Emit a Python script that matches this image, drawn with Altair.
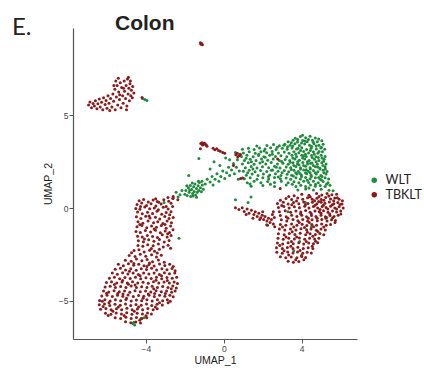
import altair as alt
import pandas as pd

# UMAP embedding of colon cells, coloured by genotype
groups = ["WLT", "TBKLT"]
colors = ["#1f8b3b", "#8b1a1a"]

# ---- WLT cells ----
wlt_main = [
    [3.68, 3.76], [3.94, 3.85], [4.21, 3.79], [4.44, 3.87], [4.71, 3.78], [4.05, 3.92],
    [3.31, 3.57], [3.56, 3.65], [3.79, 3.56], [4.06, 3.64], [4.29, 3.58], [4.56, 3.66], [4.81, 3.57], [5.04, 3.63],
    [2.22, 3.37], [2.56, 3.43], [2.86, 3.36], [3.14, 3.44], [3.41, 3.38], [3.66, 3.46], [3.89, 3.37], [4.16, 3.45],
    [4.41, 3.39], [4.64, 3.46], [4.89, 3.38], [5.11, 3.44],
    [0.96, 3.17], [1.27, 3.23], [1.56, 3.16], [1.84, 3.24], [2.12, 3.18], [2.41, 3.25], [2.69, 3.16], [3.01, 3.22],
    [3.26, 3.17], [3.51, 3.24], [3.74, 3.18], [4.01, 3.25], [4.26, 3.16], [4.49, 3.23], [4.76, 3.18], [4.99, 3.24], [5.19, 3.17],
    [1.01, 2.97], [1.31, 3.04], [1.62, 2.96], [1.91, 3.03], [2.21, 2.98], [2.49, 3.05], [2.81, 2.97], [3.11, 3.02],
    [3.36, 2.96], [3.61, 3.04], [3.86, 2.98], [4.11, 3.05], [4.36, 2.97], [4.61, 3.03], [4.84, 2.96], [5.07, 3.04],
    [0.91, 2.78], [1.19, 2.84], [1.51, 2.76], [1.79, 2.83], [2.06, 2.77], [2.36, 2.85], [2.66, 2.78], [2.94, 2.82],
    [3.24, 2.76], [3.51, 2.84], [3.74, 2.77], [4.01, 2.85], [4.24, 2.78], [4.51, 2.83], [4.74, 2.76], [5.01, 2.84], [5.21, 2.78],
    [1.06, 2.57], [1.36, 2.63], [1.66, 2.56], [1.94, 2.64], [2.26, 2.58], [2.54, 2.65], [2.86, 2.56], [3.16, 2.62],
    [3.39, 2.57], [3.66, 2.64], [3.89, 2.58], [4.16, 2.65], [4.39, 2.57], [4.66, 2.63], [4.89, 2.56], [5.16, 2.63],
    [0.96, 2.38], [1.26, 2.44], [1.56, 2.36], [1.86, 2.43], [2.16, 2.37], [2.44, 2.45], [2.76, 2.38], [3.04, 2.42],
    [3.31, 2.36], [3.56, 2.44], [3.79, 2.37], [4.06, 2.45], [4.31, 2.38], [4.54, 2.43], [4.81, 2.36], [5.04, 2.44], [5.26, 2.38],
    [1.11, 2.17], [1.41, 2.24], [1.71, 2.16], [1.99, 2.23], [2.31, 2.18], [2.61, 2.25], [2.89, 2.16], [3.21, 2.22],
    [3.44, 2.17], [3.71, 2.24], [3.94, 2.18], [4.21, 2.25], [4.44, 2.17], [4.71, 2.23], [4.94, 2.16], [5.21, 2.23],
    [1.01, 1.98], [1.31, 2.04], [1.61, 1.96], [1.89, 2.03], [2.21, 1.97], [2.51, 2.05], [2.79, 1.98], [3.11, 2.02],
    [3.34, 1.96], [3.61, 2.04], [3.84, 1.97], [4.11, 2.05], [4.34, 1.98], [4.61, 2.03], [4.84, 1.96], [5.11, 2.04], [5.31, 1.97],
    [1.16, 1.77], [1.46, 1.84], [1.76, 1.76], [2.04, 1.83], [2.36, 1.78], [2.66, 1.85], [2.94, 1.76], [3.26, 1.82],
    [3.49, 1.77], [3.76, 1.84], [3.99, 1.78], [4.26, 1.85], [4.49, 1.77], [4.76, 1.83], [4.99, 1.76], [5.26, 1.83],
    [1.06, 1.58], [1.36, 1.64], [1.71, 1.56], [2.01, 1.63], [2.31, 1.57], [2.61, 1.65], [2.91, 1.58], [3.21, 1.62],
    [3.44, 1.56], [3.71, 1.64], [3.94, 1.57], [4.21, 1.65], [4.44, 1.58], [4.71, 1.63], [4.96, 1.56], [5.21, 1.64], [5.39, 1.57],
    [1.21, 1.37], [1.56, 1.44], [1.91, 1.36], [2.26, 1.43], [2.61, 1.38], [2.96, 1.45], [3.31, 1.36], [3.61, 1.42],
    [3.86, 1.37], [4.11, 1.44], [4.36, 1.38], [4.61, 1.45], [4.86, 1.36], [5.11, 1.43], [5.36, 1.37],
    [1.41, 1.18], [2.01, 1.22], [2.61, 1.16], [3.21, 1.24], [3.71, 1.17], [3.96, 1.23], [4.21, 1.16], [4.46, 1.24],
    [4.71, 1.18], [4.96, 1.22], [5.21, 1.16], [5.46, 1.23],
    [3.81, 0.98], [4.21, 1.03], [4.61, 0.97], [5.01, 1.02], [5.41, 0.96], [5.62, 0.93],
    [3.80, 3.70], [4.35, 3.70], [4.60, 3.55], [3.55, 3.35], [4.00, 3.50], [4.75, 3.35], [3.95, 3.10], [4.45, 3.10],
    [4.90, 3.05], [3.70, 2.90], [4.20, 2.90], [4.65, 2.90], [3.55, 2.70], [4.05, 2.70], [4.55, 2.72], [5.05, 2.70],
    [3.80, 2.50], [4.30, 2.50], [4.75, 2.50], [3.60, 2.30], [4.10, 2.30], [4.60, 2.30], [5.10, 2.30], [3.95, 2.10],
    [4.45, 2.10], [4.95, 2.10], [3.70, 1.90], [4.20, 1.90], [4.70, 1.90], [5.15, 1.90], [4.00, 1.70], [4.50, 1.70],
    [5.05, 1.70], [2.50, 2.90], [2.00, 2.50], [1.50, 2.10], [2.70, 2.20], [3.00, 1.90], [1.80, 2.90], [2.30, 1.70],
    [4.88, 3.72], [4.18, 3.62], [3.47, 3.52], [4.52, 3.32], [3.28, 3.30], [5.02, 3.28], [3.82, 3.22], [4.12, 2.82],
    [4.86, 2.73], [3.42, 2.47], [4.46, 2.42], [5.13, 2.52], [3.87, 2.33], [4.83, 2.21], [3.47, 2.08], [4.24, 2.07],
    [5.22, 2.11], [3.92, 1.86], [4.44, 1.91], [4.88, 1.65], [3.58, 1.73], [4.29, 1.50], [5.02, 1.52], [4.72, 1.29],
    [3.52, 1.28], [4.38, 1.08], [5.28, 1.29], [2.08, 3.08], [1.42, 2.50], [2.45, 2.04], [1.23, 1.90], [2.80, 1.68],
    [2.13, 2.74], [1.70, 3.35], [2.98, 2.51], [3.09, 3.38], [1.35, 1.30], [2.40, 1.28], [2.75, 3.28], [1.15, 2.68],
]

wlt_bridge = [
    [-2.00, 0.75], [-1.95, 0.95], [-1.88, 0.68], [-1.82, 1.10], [-1.78, 0.85], [-1.72, 1.22], [-1.70, 0.62],
    [-1.65, 1.00], [-1.60, 0.78], [-1.55, 1.15], [-1.52, 0.90], [-1.48, 1.30], [-1.45, 0.70], [-1.40, 1.05],
    [-1.36, 0.85], [-1.32, 1.20], [-1.28, 0.95], [-1.25, 1.38], [-1.20, 1.10], [-1.15, 0.88], [-1.10, 1.25],
    [-1.05, 1.02], [-1.62, 1.35], [-1.90, 1.20], [-1.40, 0.58], [-1.75, 0.98], [-1.58, 0.65], [-1.30, 1.45],
    [-1.12, 1.45], [-2.45, 0.85], [-2.25, 0.72], [-2.15, 0.95], [-2.35, 0.60], [-2.60, 0.55],
    [-0.95, 1.30], [-0.85, 1.55], [-0.70, 1.40], [-0.60, 1.70], [-0.55, 1.25], [-0.45, 1.55], [-0.35, 1.85],
    [-0.25, 1.45], [-0.15, 1.70], [-0.05, 2.00], [0.05, 1.60], [0.15, 1.90], [0.25, 2.20], [0.30, 1.75],
    [0.40, 2.05], [0.50, 2.40], [0.55, 1.85], [0.65, 2.20], [0.70, 2.60], [0.80, 2.00], [-1.28, 2.67],
    [-0.70, 2.10], [-0.20, 2.30], [0.30, 2.60], [0.60, 3.00], [-0.50, 2.50], [0.10, 2.70], [-1.80, 1.75],
    [0.85, 2.85], [0.75, 1.55],
]

wlt_scattered = [
    [-4.18, 5.90], [-4.06, 5.85], [-3.95, 5.80], [-2.30, -1.63], [-3.07, 0.30],
    [-4.67, -6.22], [-4.58, -6.30], [-4.62, -6.15], [-4.25, -5.95], [-4.10, -5.90],
    [3.30, -0.20], [4.50, -1.00], [3.90, -1.80], [5.30, -0.50], [2.20, -0.90], [1.40, 0.60],
    [1.25, 0.30], [3.60, -2.30], [4.20, 0.30], [0.60, 0.45],
]

# ---- TBKLT cells ----
tbklt_upper_left = [
    [-6.95, 5.55], [-6.88, 5.72], [-6.80, 5.40], [-6.72, 5.63], [-6.65, 5.50], [-6.60, 5.78], [-6.52, 5.35],
    [-6.47, 5.62], [-6.40, 5.88], [-6.35, 5.45], [-6.28, 5.70], [-6.22, 5.30], [-6.18, 5.95], [-6.10, 5.58],
    [-6.05, 5.80], [-6.00, 5.38], [-5.95, 6.05], [-5.90, 5.65], [-5.86, 5.25], [-5.82, 5.90],
    [-5.75, 5.45], [-5.70, 6.15], [-5.66, 5.75], [-5.60, 6.40], [-5.58, 5.30], [-5.52, 5.98], [-5.48, 6.60],
    [-5.45, 5.55], [-5.40, 6.25], [-5.36, 5.85], [-5.32, 6.75], [-5.28, 5.40], [-5.25, 6.50], [-5.20, 6.05],
    [-5.17, 5.65], [-5.12, 6.85], [-5.10, 6.30], [-5.05, 5.90], [-5.02, 6.60], [-4.98, 5.50], [-4.95, 6.95],
    [-4.92, 6.15], [-4.88, 6.45], [-4.85, 5.78], [-4.82, 6.70], [-4.78, 6.05], [-4.75, 6.35], [-4.70, 5.95],
    [-4.68, 6.55], [-4.62, 6.20], [-5.55, 6.85], [-5.42, 7.00], [-4.90, 7.05], [-5.15, 6.45], [-5.35, 6.10],
    [-4.80, 6.85], [-5.65, 6.60], [-5.00, 5.30], [-4.20, 5.96],
]

tbklt_small = [
    [-1.20, 8.90], [-1.14, 8.86], [-1.10, 8.80], [-1.17, 8.83],
    [-1.18, 3.48], [-1.12, 3.52], [-1.06, 3.42], [-1.00, 3.50], [-0.95, 3.44], [-0.90, 3.40], [-1.10, 3.40],
    [-0.86, 3.33], [-1.20, 3.20], [-0.55, 3.22], [-0.46, 3.14], [-0.36, 3.20], [-0.27, 3.10], [-0.18, 3.06],
    [-0.05, 3.00], [0.05, 2.95], [0.62, 2.88], [0.70, 2.95], [0.78, 2.82], [0.85, 2.90], [0.72, 2.75],
    [0.50, 2.30], [0.87, 1.60], [0.97, 1.62], [2.77, 2.65], [2.90, 1.05],
    [-2.87, 0.57], [-2.60, 0.62], [-2.36, 0.45],
]

tbklt_left_top = [
    [-4.35, 0.40], [-4.12, 0.46], [-3.88, 0.33], [-3.63, 0.44], [-3.34, 0.31], [-3.08, 0.45], [-2.83, 0.37], [-2.62, 0.52], [-3.50, 0.50],
    [-4.46, 0.19], [-4.22, 0.27], [-3.97, 0.14], [-3.74, 0.24], [-3.49, 0.11], [-3.22, 0.22], [-2.96, 0.09], [-2.71, 0.26],
    [-4.52, -0.02], [-4.31, -0.06], [-4.06, 0.06], [-3.81, -0.03], [-3.57, 0.01], [-3.36, -0.09], [-3.11, 0.04], [-2.86, -0.05], [-2.63, 0.08],
    [-4.43, -0.21], [-4.19, -0.31], [-3.92, -0.23], [-3.66, -0.29], [-3.43, -0.17], [-3.19, -0.33], [-2.96, -0.24], [-2.71, -0.19],
    [-4.49, -0.47], [-4.26, -0.56], [-4.01, -0.44], [-3.79, -0.53], [-3.51, -0.49], [-3.29, -0.59], [-3.03, -0.45], [-2.81, -0.56], [-2.60, -0.50],
    [-4.41, -0.73], [-4.16, -0.81], [-3.89, -0.69], [-3.61, -0.79], [-3.39, -0.74], [-3.13, -0.83], [-2.91, -0.69], [-2.69, -0.79],
    [-4.46, -1.01], [-4.21, -0.94], [-3.96, -1.06], [-3.71, -0.97], [-3.46, -1.03], [-3.21, -0.94], [-2.96, -1.09], [-2.73, -0.97],
    [-4.51, -1.26], [-4.29, -1.31], [-4.03, -1.21], [-3.76, -1.29], [-3.51, -1.19], [-3.26, -1.33], [-3.01, -1.24], [-2.79, -1.31], [-2.61, -1.17],
    [-4.43, -1.51], [-4.19, -1.56], [-3.93, -1.47], [-3.66, -1.53], [-3.41, -1.59], [-3.16, -1.44], [-2.91, -1.56], [-2.71, -1.47],
    [-4.39, -1.76], [-4.13, -1.81], [-3.86, -1.71], [-3.59, -1.79], [-3.31, -1.69], [-3.06, -1.83], [-2.81, -1.74],
    [-4.41, -2.01], [-4.16, -2.06], [-3.91, -1.97], [-3.63, -2.03], [-3.36, -1.94], [-3.11, -2.09], [-2.86, -2.00], [-2.73, -2.16],
    [-4.61, -2.29], [-4.36, -2.24], [-4.09, -2.36], [-3.81, -2.27], [-3.56, -2.33], [-3.31, -2.21],
    [-4.86, -2.55], [-4.56, -2.61], [-4.29, -2.49], [-4.01, -2.59], [-3.71, -2.51], [-3.46, -2.63], [-3.21, -2.54],
    [-5.06, -2.81], [-4.76, -2.86], [-4.49, -2.74], [-4.21, -2.83], [-3.94, -2.77], [-3.66, -2.89], [-3.36, -2.79], [-3.06, -2.91],
    [-4.28, 0.08], [-3.42, 0.36], [-2.78, -0.36], [-3.84, -0.42], [-4.32, -0.88], [-3.02, -0.88], [-3.58, -1.12],
    [-4.08, -1.66], [-2.88, -1.38], [-3.72, -2.18], [-4.74, -2.40], [-3.42, -2.42], [-4.62, -2.98], [-3.82, -2.96],
]

tbklt_left_bottom = [
    [-5.42, -3.03], [-5.16, -3.10], [-4.90, -3.00], [-4.63, -3.08], [-4.37, -3.02], [-4.10, -3.11], [-3.84, -3.04],
    [-3.58, -3.12], [-3.30, -3.01], [-3.03, -3.09], [-2.78, -3.03], [-2.60, -3.15],
    [-5.58, -3.30], [-5.31, -3.24], [-5.05, -3.33], [-4.78, -3.26], [-4.50, -3.35], [-4.24, -3.27], [-3.97, -3.31],
    [-3.71, -3.24], [-3.45, -3.34], [-3.18, -3.27], [-2.92, -3.32], [-2.66, -3.25], [-2.50, -3.38],
    [-5.73, -3.50], [-5.47, -3.56], [-5.20, -3.48], [-4.93, -3.55], [-4.66, -3.50], [-4.39, -3.58], [-4.12, -3.49],
    [-3.85, -3.55], [-3.58, -3.50], [-3.31, -3.57], [-3.05, -3.48], [-2.79, -3.54], [-2.52, -3.50],
    [-5.88, -3.78], [-5.62, -3.73], [-5.35, -3.80], [-5.08, -3.74], [-4.81, -3.79], [-4.54, -3.72], [-4.27, -3.80],
    [-4.00, -3.75], [-3.73, -3.79], [-3.46, -3.72], [-3.19, -3.80], [-2.92, -3.74], [-2.65, -3.78], [-2.42, -3.73],
    [-6.03, -4.01], [-5.77, -3.97], [-5.50, -4.04], [-5.23, -3.98], [-4.96, -4.03], [-4.69, -3.96], [-4.42, -4.04],
    [-4.15, -3.99], [-3.88, -4.05], [-3.61, -3.97], [-3.34, -4.03], [-3.07, -3.98], [-2.80, -4.04], [-2.55, -3.98], [-2.38, -4.06],
    [-6.10, -4.25], [-5.84, -4.21], [-5.57, -4.28], [-5.30, -4.22], [-5.03, -4.27], [-4.76, -4.20], [-4.49, -4.28],
    [-4.22, -4.23], [-3.95, -4.27], [-3.68, -4.21], [-3.41, -4.28], [-3.14, -4.22], [-2.87, -4.27], [-2.62, -4.20], [-2.44, -4.30],
    [-6.18, -4.47], [-5.91, -4.52], [-5.64, -4.45], [-5.37, -4.51], [-5.10, -4.46], [-4.83, -4.53], [-4.56, -4.45],
    [-4.29, -4.50], [-4.02, -4.46], [-3.75, -4.52], [-3.48, -4.45], [-3.21, -4.51], [-2.94, -4.46], [-2.68, -4.53], [-2.50, -4.47],
    [-6.27, -4.73], [-6.00, -4.69], [-5.73, -4.76], [-5.46, -4.70], [-5.19, -4.75], [-4.92, -4.68], [-4.65, -4.76],
    [-4.38, -4.71], [-4.11, -4.75], [-3.84, -4.69], [-3.57, -4.76], [-3.30, -4.70], [-3.03, -4.75], [-2.77, -4.69], [-2.60, -4.78],
    [-6.38, -4.97], [-6.11, -4.93], [-5.84, -5.00], [-5.57, -4.94], [-5.30, -4.99], [-5.03, -4.92], [-4.76, -5.00],
    [-4.49, -4.95], [-4.22, -4.99], [-3.95, -4.93], [-3.68, -5.00], [-3.41, -4.94], [-3.14, -4.99], [-2.90, -4.93], [-2.75, -5.02],
    [-6.40, -5.21], [-6.13, -5.17], [-5.86, -5.24], [-5.59, -5.18], [-5.32, -5.23], [-5.05, -5.16], [-4.78, -5.24],
    [-4.51, -5.19], [-4.24, -5.23], [-3.97, -5.17], [-3.70, -5.24], [-3.43, -5.18], [-3.16, -5.22],
    [-6.33, -5.45], [-6.06, -5.41], [-5.79, -5.48], [-5.52, -5.42], [-5.25, -5.47], [-4.98, -5.40], [-4.71, -5.48],
    [-4.44, -5.43], [-4.17, -5.47], [-3.90, -5.41], [-3.63, -5.47], [-3.42, -5.42],
    [-6.08, -5.66], [-5.80, -5.72], [-5.53, -5.65], [-5.26, -5.71], [-4.99, -5.64], [-4.72, -5.72], [-4.45, -5.66],
    [-4.18, -5.71], [-3.92, -5.65], [-3.72, -5.70],
    [-5.58, -5.90], [-5.30, -5.95], [-5.03, -5.88], [-4.76, -5.94], [-4.49, -5.89], [-4.22, -5.95], [-3.96, -5.90],
    [-5.05, -6.12], [-4.78, -6.18], [-4.52, -6.13], [-4.28, -6.19],
    [-5.90, -5.10], [-5.45, -4.60], [-4.90, -4.10], [-4.30, -3.65], [-3.60, -4.35], [-3.00, -4.60], [-2.90, -3.90],
    [-5.20, -3.90], [-4.60, -5.55], [-4.00, -5.80], [-3.30, -5.10], [-5.70, -5.55], [-6.20, -5.30], [-4.85, -3.40],
    [-3.95, -3.15], [-3.20, -3.65], [-2.70, -4.35], [-5.00, -4.85], [-4.15, -4.85], [-3.55, -4.60],
    [-5.62, -4.12], [-4.56, -4.14], [-3.48, -3.88], [-6.02, -4.58], [-5.18, -4.62], [-3.88, -4.62], [-2.86, -5.10],
    [-6.24, -5.02], [-5.42, -5.32], [-4.38, -5.32], [-3.52, -5.32], [-5.94, -5.78], [-5.12, -5.78], [-4.32, -6.04],
]

tbklt_right = [
    [0.78, -0.08], [0.95, 0.02], [1.05, -0.18], [1.20, -0.05], [1.30, -0.28], [1.42, -0.12], [1.55, -0.35],
    [1.62, -0.20], [1.72, -0.45], [1.80, -0.28], [1.90, -0.52], [1.98, -0.38], [2.05, -0.62], [2.12, -0.45],
    [2.22, -0.70], [2.30, -0.55], [2.38, -0.78], [2.45, -0.62], [2.55, -0.85], [2.60, -0.50], [1.15, -0.35],
    [1.50, -0.55], [2.00, -0.20], [2.50, -0.35], [0.60, 0.02], [2.62, -1.00], [2.55, -0.20], [1.85, -0.62], [2.25, -0.92],
    [3.62, 0.66], [4.01, 0.74], [4.38, 0.69], [4.77, 0.78], [5.04, 0.70], [5.31, 0.79], [5.56, 0.72], [5.80, 0.75],
    [2.91, 0.42], [3.20, 0.52], [3.49, 0.46], [3.80, 0.55], [4.06, 0.48], [4.31, 0.56], [4.55, 0.47], [4.79, 0.53],
    [5.01, 0.46], [5.24, 0.57], [5.49, 0.49], [5.71, 0.55], [5.93, 0.47], [6.10, 0.40],
    [2.76, 0.25], [3.06, 0.31], [3.31, 0.22], [3.59, 0.30], [3.86, 0.24], [4.11, 0.33], [4.33, 0.25], [4.56, 0.31],
    [4.79, 0.23], [5.01, 0.32], [5.20, 0.26], [5.43, 0.33], [5.66, 0.24], [5.86, 0.30], [6.08, 0.22],
    [2.81, 0.03], [3.09, 0.09], [3.36, 0.00], [3.63, 0.07], [3.89, 0.02], [4.16, 0.10], [4.38, 0.01], [4.61, 0.08],
    [4.83, 0.00], [5.06, 0.09], [5.26, 0.03], [5.49, 0.10], [5.71, 0.01], [5.93, 0.07], [6.14, 0.00],
    [2.86, -0.20], [3.16, -0.14], [3.44, -0.22], [3.71, -0.15], [3.96, -0.21], [4.21, -0.13], [4.44, -0.22],
    [4.69, -0.16], [4.91, -0.20], [5.13, -0.14], [5.36, -0.22], [5.59, -0.15], [5.80, -0.21], [6.01, -0.16],
    [2.91, -0.40], [3.21, -0.46], [3.49, -0.38], [3.76, -0.45], [4.01, -0.39], [4.26, -0.47], [4.51, -0.40],
    [4.74, -0.45], [5.00, -0.38], [5.23, -0.46], [5.46, -0.40], [5.67, -0.45], [5.88, -0.39],
    [2.96, -0.63], [3.24, -0.69], [3.56, -0.62], [3.81, -0.68], [4.06, -0.61], [4.31, -0.69], [4.54, -0.63],
    [4.81, -0.68], [5.04, -0.62], [5.31, -0.70], [5.54, -0.63], [5.74, -0.67],
    [2.91, -0.88], [3.19, -0.93], [3.49, -0.86], [3.76, -0.92], [4.03, -0.87], [4.27, -0.94], [4.53, -0.88],
    [4.77, -0.93], [5.03, -0.86], [5.27, -0.92], [5.49, -0.88],
    [2.86, -1.13], [3.14, -1.18], [3.43, -1.12], [3.71, -1.18], [3.97, -1.11], [4.26, -1.17], [4.49, -1.12],
    [4.76, -1.19], [5.00, -1.13], [5.22, -1.18],
    [2.81, -1.38], [3.11, -1.43], [3.37, -1.37], [3.66, -1.42], [3.93, -1.36], [4.21, -1.43], [4.44, -1.38],
    [4.71, -1.42], [4.94, -1.37], [5.14, -1.44],
    [2.79, -1.63], [3.06, -1.68], [3.34, -1.62], [3.63, -1.67], [3.89, -1.61], [4.16, -1.68], [4.41, -1.63],
    [4.67, -1.67], [4.89, -1.62],
    [2.76, -1.88], [3.03, -1.93], [3.31, -1.87], [3.57, -1.92], [3.86, -1.86], [4.11, -1.93], [4.37, -1.88],
    [4.61, -1.92], [4.83, -1.87],
    [2.71, -2.13], [3.01, -2.18], [3.27, -2.12], [3.56, -2.17], [3.81, -2.11], [4.09, -2.18], [4.34, -2.13], [4.58, -2.17],
    [2.73, -2.38], [3.01, -2.43], [3.29, -2.37], [3.56, -2.42], [3.79, -2.36], [4.06, -2.43], [4.29, -2.38], [4.50, -2.42],
    [2.91, -2.62], [3.19, -2.68], [3.47, -2.63], [3.76, -2.67], [4.01, -2.61], [4.21, -2.66],
    [3.31, -2.86], [3.58, -2.91], [3.86, -2.87],
    [4.45, 0.60], [4.90, 0.62], [5.40, 0.65], [5.65, 0.40], [5.15, 0.42], [4.67, 0.40], [4.20, 0.18], [4.70, 0.15],
    [5.12, 0.15], [5.58, 0.18], [5.98, 0.20], [5.35, -0.05], [4.95, -0.08], [4.50, -0.30], [5.00, -0.28], [5.45, -0.32],
    [5.80, -0.05], [4.80, -0.55], [5.25, -0.55], [5.60, -0.52], [4.35, -0.55], [3.95, -0.30], [3.50, 0.18], [3.30, -0.55],
    [3.60, -1.02], [4.15, -1.05], [4.62, -1.00], [3.20, -1.55], [3.75, -1.55], [4.30, -1.30], [3.45, -2.05], [4.00, -2.55],
    [3.10, -2.30], [4.55, -2.05],
    [3.34, 0.62], [2.98, 0.14], [3.74, 0.38], [4.88, 0.36], [5.84, 0.56], [6.02, -0.32], [5.72, -0.78], [5.14, -1.02],
    [4.40, -0.78], [3.88, -0.78], [3.02, -1.02], [3.52, -1.28], [4.84, -1.26], [4.58, -1.52], [3.48, -1.80], [4.24, -1.80],
    [2.88, -2.02], [4.72, -1.78], [3.92, -2.28], [3.34, -2.52], [3.70, -2.78], [4.12, -2.78],
]


def cells(points, group):
    return pd.DataFrame(points, columns=["UMAP_1", "UMAP_2"]).assign(genotype=group)


df = pd.concat(
    [
        cells(wlt_main, "WLT"),
        cells(wlt_bridge, "WLT"),
        cells(wlt_scattered, "WLT"),
        cells(tbklt_upper_left, "TBKLT"),
        cells(tbklt_small, "TBKLT"),
        cells(tbklt_left_top, "TBKLT"),
        cells(tbklt_left_bottom, "TBKLT"),
        cells(tbklt_right, "TBKLT"),
    ],
    ignore_index=True,
)

axis_style = dict(
    grid=False,
    domainColor="#555555",
    domainWidth=1.2,
    tickColor="#555555",
    tickSize=4,
    labelFont="Liberation Sans",
    labelFontSize=8.5,
    labelColor="#444444",
    labelPadding=1,
    titleFont="Liberation Sans",
    titleFontSize=10.5,
    titleFontWeight="normal",
    titleColor="#222222",
)

points = alt.Chart(df).mark_circle(size=9, opacity=1).encode(
    x=alt.X(
        "UMAP_1:Q",
        scale=alt.Scale(domain=[-7.75, 6.85], nice=False, zero=False),
        axis=alt.Axis(values=[-4, 0, 4], titlePadding=3, **axis_style),
    ),
    y=alt.Y(
        "UMAP_2:Q",
        scale=alt.Scale(domain=[-7.05, 9.7], nice=False, zero=False),
        axis=alt.Axis(values=[-5, 0, 5], titlePadding=5, **axis_style),
    ),
    color=alt.Color(
        "genotype:N",
        scale=alt.Scale(domain=groups, range=colors),
        legend=alt.Legend(
            title=None,
            orient="none",
            legendX=295,
            legendY=146,
            symbolType="circle",
            symbolSize=30,
            symbolStrokeWidth=0,
            labelFont="Lato",
            labelFontSize=12.5,
            labelColor="#222222",
            rowPadding=1.5,
            labelOffset=5,
            padding=0,
        ),
    ),
)

title_df = pd.DataFrame({"label": ["Colon"]})
panel_df = pd.DataFrame({"label": ["E."]})

title = alt.Chart(title_df).mark_text(
    font="Liberation Sans", fontSize=21, fontWeight="bold", align="left",
    baseline="alphabetic", color="#222222",
).encode(text="label:N", x=alt.value(42), y=alt.value(2))

panel = alt.Chart(panel_df).mark_text(
    font="Lato", fontSize=24, align="left", baseline="alphabetic", color="#222222",
).encode(text="label:N", x=alt.value(-61), y=alt.value(7))

chart = (
    alt.layer(points, title, panel)
    .properties(
        width=284,
        height=311,
        padding={"left": 73, "top": 28, "right": 67, "bottom": 33},
        autosize=alt.AutoSizeParams(type="none"),
    )
    .configure_view(stroke=None)
)

chart.save("out.html", embed_options={"renderer": "svg", "actions": False})
